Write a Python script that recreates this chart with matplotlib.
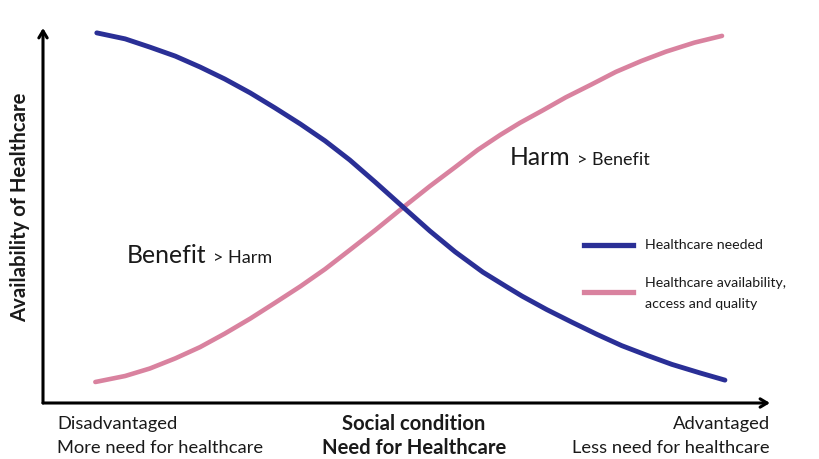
import matplotlib
matplotlib.use("Agg")
import matplotlib.pyplot as plt

plt.rcParams['font.family'] = ['Lato', 'DejaVu Sans']

# Data (conceptual curves; axes run 0..100)
x_needed = [7.4, 11.3, 14.7, 18.2, 21.6, 25.0, 28.5, 31.9, 35.4, 38.8, 42.2, 45.7, 49.5,
            53.2, 56.7, 60.5, 63.6, 65.9, 69.3, 72.8, 76.2, 79.6, 83.1, 86.5, 90.4, 93.8]
y_needed = [98.7, 97.1, 94.9, 92.5, 89.6, 86.4, 82.7, 78.7, 74.4, 69.9, 64.8, 58.9, 52.3,
            45.9, 40.3, 34.9, 31.2, 28.5, 24.9, 21.5, 18.3, 15.3, 12.7, 10.3, 8.0, 6.1]
x_avail = [7.2, 11.3, 14.7, 18.2, 21.6, 25.0, 28.5, 31.9, 35.4, 38.8, 42.2, 45.7, 49.5,
           53.2, 56.7, 59.8, 62.9, 65.6, 68.8, 71.9, 75.4, 78.8, 82.3, 85.7, 89.6, 93.4]
y_avail = [5.6, 7.2, 9.2, 11.9, 14.9, 18.5, 22.5, 26.7, 31.1, 35.7, 40.8, 46.1, 52.1,
           57.8, 62.9, 67.5, 71.5, 74.7, 78.1, 81.5, 84.9, 88.3, 91.2, 93.7, 96.1, 97.9]

legend_labels = ["Healthcare needed", "Healthcare availability,", "access and quality"]
y_label = "Availability of Healthcare"
x_title = ["Social condition", "Need for Healthcare"]
left_label = ["Disadvantaged", "More need for healthcare"]
right_label = ["Advantaged", "Less need for healthcare"]

BLUE = "#2a2f96"
PINK = "#d9829f"
TXT = "#1a1a1a"

W, H = 819, 459
fig = plt.figure(figsize=(W / 100, H / 100), dpi=100)
ax = fig.add_axes([43 / W, (H - 403) / H, 727 / W, 375 / H])
ax.set_xlim(0, 100)
ax.set_ylim(0, 100)
for s in ["top", "right", "left", "bottom"]:
    ax.spines[s].set_visible(False)
ax.set_xticks([])
ax.set_yticks([])
ax.patch.set_alpha(0)

# axis arrows
arrow_kw = dict(arrowstyle="->,head_length=0.5,head_width=0.3", lw=2.2, color="black",
                shrinkA=0, shrinkB=0)
ax.annotate("", xy=(1, 0), xytext=(0, 0), xycoords="axes fraction", arrowprops=arrow_kw)
ax.annotate("", xy=(0, 1), xytext=(0, 0), xycoords="axes fraction", arrowprops=arrow_kw)

ax.plot(x_avail, y_avail, color=PINK, lw=3.3, solid_capstyle="round",
        solid_joinstyle="round", zorder=3)
ax.plot(x_needed, y_needed, color=BLUE, lw=3.5, solid_capstyle="round",
        solid_joinstyle="round", zorder=4)

# legend
fig.lines.append(plt.Line2D([584 / W, 633 / W], [1 - 245 / H] * 2, color=BLUE, lw=3.8,
                            transform=fig.transFigure))
fig.lines.append(plt.Line2D([584 / W, 633 / W], [1 - 292 / H] * 2, color=PINK, lw=3.8,
                            transform=fig.transFigure))
fig.text(645 / W, 1 - 245 / H, legend_labels[0], fontsize=10.2, va="center", ha="left",
         color=TXT)
fig.text(645 / W, 1 - 283 / H, legend_labels[1], fontsize=10.2, va="center", ha="left",
         color=TXT)
fig.text(645 / W, 1 - 304 / H, legend_labels[2], fontsize=10.2, va="center", ha="left",
         color=TXT)

# annotations with mixed sizes
fig.canvas.draw()
renderer = fig.canvas.get_renderer()

def mixed(xpx, ypx, big, small):
    t = fig.text(xpx / W, 1 - ypx / H, big, fontsize=17.8, va="baseline", ha="left",
                 color=TXT)
    bb = t.get_window_extent(renderer)
    fig.text((bb.x1 + 6) / W, 1 - ypx / H, small, fontsize=13, va="baseline", ha="left",
             color=TXT)

mixed(127, 263, "Benefit", "> Harm")
mixed(510, 165, "Harm", "> Benefit")

# axis labels
fig.text(20 / W, 1 - 207 / H, y_label, rotation=90, fontsize=14.6, fontweight="bold",
         ha="center", va="center", color=TXT)
for i, yy in enumerate([424, 448]):
    fig.text(414 / W, 1 - yy / H, x_title[i], fontsize=14.6, fontweight="bold",
             ha="center", va="center", color=TXT)
    fig.text(57 / W, 1 - yy / H, left_label[i], fontsize=13.2, ha="left", va="center",
             color=TXT)
    fig.text(770 / W, 1 - yy / H, right_label[i], fontsize=13.2, ha="right", va="center",
             color=TXT)

fig.savefig("out.png", dpi=100, facecolor="white")
